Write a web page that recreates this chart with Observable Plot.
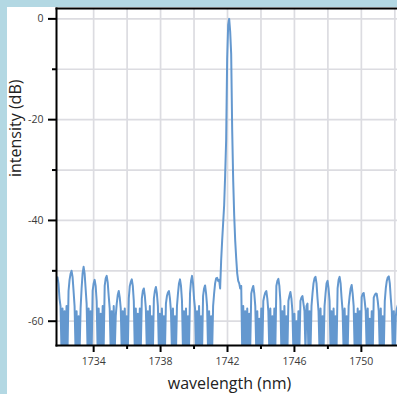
<!DOCTYPE html>
<html>
<head>
<meta charset="utf-8">
<script src="https://cdn.jsdelivr.net/npm/d3@7"></script>
<script src="https://cdn.jsdelivr.net/npm/@observablehq/plot@0.6"></script>
<style>
  html, body { margin: 0; padding: 0; overflow: hidden; width: 397px; height: 394px; background: #b3d8e3; }
  #panel { position: absolute; left: 7px; top: 7px; width: 390px; height: 387px; background: #fff; }
  #panel svg { display: block; }
</style>
</head>
<body>
<div id="panel"></div>
<script>
// Optical spectrum: uniform wavelength sampling grid (nm) and measured intensity (dB)
const wavelengthStart = 1731.84;
const wavelengthStep = 0.06;
const intensity = [
  -51.3, -52.6, -55.5, -57, -66, -57.5, -67, -58, -66, -57,
  -65.5, -54, -51.8, -50.6, -50, -51.2, -54, -57, -66, -58,
  -67, -59, -66, -57.5, -53.5, -50.5, -49.2, -50.5, -53.5, -56.5,
  -66, -57.5, -67, -58, -66, -54, -52.5, -51.8, -53, -56,
  -66, -57.5, -67, -58.5, -66, -57, -65, -53, -51.5, -51,
  -52.3, -55, -57.5, -66, -58, -67, -57, -66, -59, -56.5,
  -54.8, -54, -55.3, -57.5, -66, -58, -67, -57.5, -66, -59,
  -66, -55.5, -53, -52.2, -51.7, -53, -56, -66, -57.5, -67,
  -58.5, -66, -57.5, -65, -55.5, -54, -53.5, -55, -57.5, -66,
  -58, -67, -57, -66, -59, -66, -55.5, -54, -53.2, -54.5,
  -57, -66, -58.5, -67, -57.5, -66, -59, -66, -56.5, -55,
  -54.3, -54, -55.5, -58, -66, -57.5, -67, -59, -66, -57,
  -54.5, -52.5, -51.7, -53, -56, -66, -58, -67, -57.5, -66,
  -59, -65.5, -54.5, -52, -51, -52.5, -55.5, -57.5, -66, -58,
  -67, -57, -66, -59, -66, -55, -53.5, -52.9, -54.5, -57,
  -66, -58, -67, -59, -66, -57, -54.5, -52.5, -51.5, -51.4,
  -52, -51.8, -53.5, -48, -44, -40.5, -37, -31, -24, -8,
  -1.2, 0, -2.5, -7, -22, -32, -39, -44, -47.5, -50.5,
  -52, -52.5, -53.5, -53, -66, -57, -66, -58, -67, -57.5,
  -66, -58.5, -65, -54.5, -53.6, -53, -54.5, -57, -66, -58,
  -67, -59.5, -66, -57.5, -66, -56, -55, -54.3, -54, -55.5,
  -58, -66, -57.5, -67, -59, -66, -57.5, -65, -53, -52,
  -51.6, -53, -56, -66, -58, -67, -57, -66, -59, -66,
  -56, -55, -54.2, -55.5, -58, -66, -58.5, -67, -60, -66,
  -58, -65, -56, -55.3, -55, -56.5, -58, -66, -57, -56.5,
  -67, -58, -66, -57, -54.5, -52.5, -51.5, -51.2, -52.5, -55.5,
  -58, -66, -57.5, -67, -59, -66, -57, -54.5, -52.5, -52,
  -53.5, -56, -66, -58, -67, -57.5, -66, -59, -65, -53.5,
  -51.8, -51.2, -52.5, -55.5, -58, -66, -57.5, -67, -59, -66,
  -57, -55, -53.5, -52.8, -54.5, -57, -66, -58.5, -67, -57.5,
  -66, -58, -65.5, -55.2, -54.6, -54.4, -56, -58, -66, -57.5,
  -67, -59.5, -66, -58, -66, -55.3, -54.8, -54.5, -54.6, -56,
  -58, -66, -57.5, -67, -59, -66, -56, -53.5, -52, -51.3,
  -51.1, -52.5, -55.5, -58, -66, -58, -67, -59, -57.5, -56.8, -58
];

// Axis ticks and grid positions
const xLabeledTicks = [1734, 1738, 1742, 1746, 1750];
const xMinorTicks = [1736, 1740, 1744, 1748];
const xGridLines = [1734, 1736, 1738, 1740, 1742, 1744, 1746, 1748, 1750, 1752];
const yLabeledTicks = [0, -20, -40, -60];
const yMinorTicks = [-10, -30, -50];
const yGridLines = [0, -10, -20, -30, -40, -50, -60];
const xTitle = "wavelength (nm)";
const yTitle = "intensity (dB)";

const spectrum = intensity.map((v, i) => ({
  wavelength: +(wavelengthStart + i * wavelengthStep).toFixed(2),
  intensity: v
}));

const font = "'Open Sans', 'Noto Sans', sans-serif";
const tickText = "#3a3a3a";

const chart = Plot.plot({
  width: 390,
  height: 387,
  marginLeft: 49,
  marginRight: 0,
  marginTop: 1,
  marginBottom: 49,
  style: { fontFamily: font, background: "white", overflow: "visible" },
  x: { domain: [1731.78, 1752.16] },
  y: { domain: [-64.82, 2.06] },
  marks: [
    Plot.gridX(xGridLines, { stroke: "#dcdce1", strokeOpacity: 1, strokeWidth: 1.7 }),
    Plot.gridY(yGridLines, { stroke: "#dcdce1", strokeOpacity: 1, strokeWidth: 1.7 }),
    Plot.line(spectrum, {
      x: "wavelength",
      y: "intensity",
      stroke: "#6498cf",
      strokeWidth: 2,
      strokeLinejoin: "round",
      clip: true
    }),
    Plot.frame({ anchor: "left", stroke: "black", strokeWidth: 2 }),
    Plot.frame({ anchor: "top", stroke: "black", strokeWidth: 2 }),
    Plot.frame({ anchor: "bottom", stroke: "black", strokeWidth: 2 }),
    Plot.axisX(xLabeledTicks, {
      anchor: "bottom", tickSize: 7, tickPadding: 5, stroke: "black", strokeWidth: 2,
      fill: tickText, fontSize: 10.5, label: null, tickFormat: d => String(d)
    }),
    Plot.axisX(xMinorTicks, {
      anchor: "bottom", tickSize: 4, stroke: "black", strokeWidth: 2, text: null, label: null
    }),
    Plot.axisY(yLabeledTicks, {
      anchor: "left", tickSize: 8, tickPadding: 5, stroke: "black", strokeWidth: 2,
      fill: tickText, fontSize: 10.5, label: null, tickFormat: d => String(d)
    }),
    Plot.axisY(yMinorTicks, {
      anchor: "left", tickSize: 4, stroke: "black", strokeWidth: 2, text: null, label: null
    }),
    Plot.text([xTitle], {
      frameAnchor: "bottom", dx: 2.5, dy: 38, fontSize: 16, fill: "#222", lineAnchor: "middle"
    }),
    Plot.text([yTitle], {
      frameAnchor: "left", dx: -41, rotate: -90, fontSize: 16, fill: "#222", lineAnchor: "middle"
    })
  ]
});

document.getElementById("panel").appendChild(chart);
</script>
</body>
</html>
